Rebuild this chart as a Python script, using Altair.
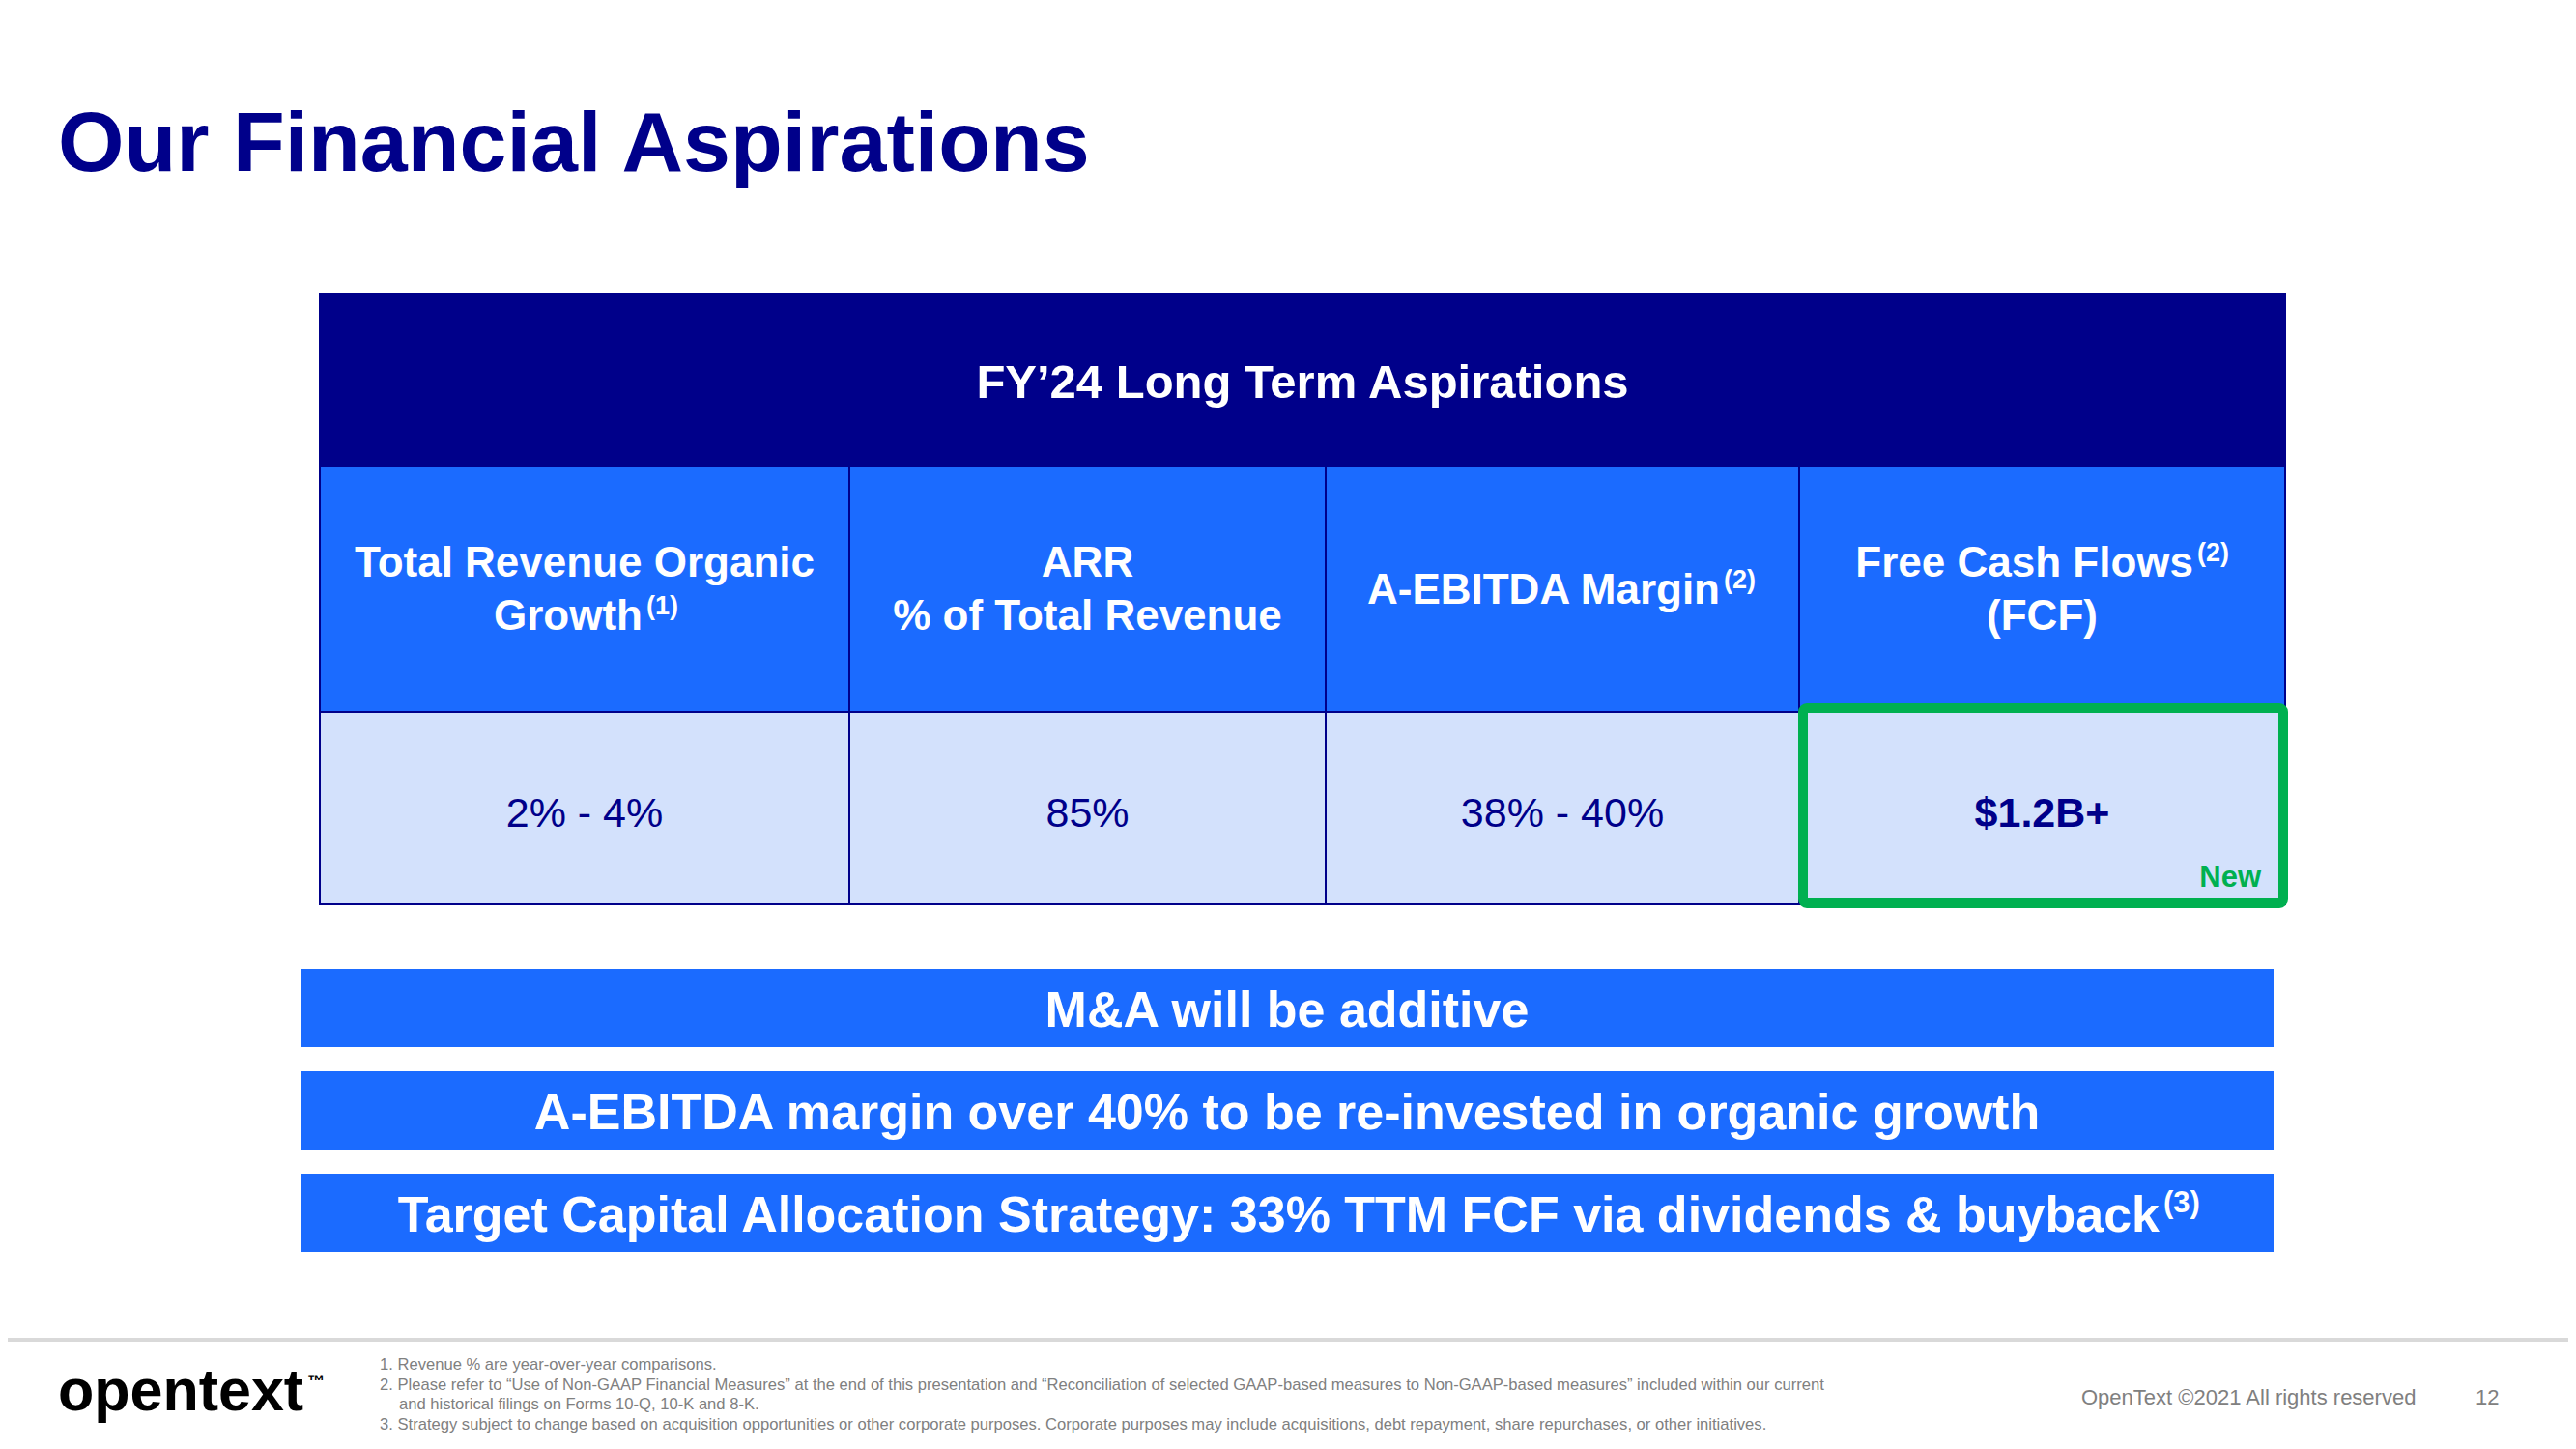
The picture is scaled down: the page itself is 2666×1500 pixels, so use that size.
import altair as alt
import pandas as pd

# ---------------- content ----------------
title = "Our Financial Aspirations"
table_title = "FY\u201924 Long Term Aspirations"
metric_line1 = ["Total Revenue Organic", "ARR", "A-EBITDA Margin", "Free Cash Flows"]
metric_line2 = ["Growth", "% of Total Revenue", "", "(FCF)"]
metric_notes = ["(1)", "", "(2)", "(2)"]
note_on_line = [2, 0, 1, 1]          # which line carries the footnote mark (0 = none)
targets = ["2% - 4%", "85%", "38% - 40%", "$1.2B+"]
target_bold = [False, False, False, True]
new_flags = ["", "", "", "New"]
statements = [
    "M&A will be additive",
    "A-EBITDA margin over 40% to be re-invested in organic growth",
    "Target Capital Allocation Strategy: 33% TTM FCF via dividends & buyback",
]
statement_notes = ["", "", "(3)"]
footnotes = [
    "1. Revenue % are year-over-year comparisons.",
    "2. Please refer to \u201cUse of Non-GAAP Financial Measures\u201d at the end of this presentation and \u201cReconciliation of selected GAAP-based measures to Non-GAAP-based measures\u201d included within our current",
    "and historical filings on Forms 10-Q, 10-K and 8-K.",
    "3. Strategy subject to change based on acquisition opportunities or other corporate purposes. Corporate purposes may include acquisitions, debt repayment, share repurchases, or other initiatives.",
]
logo = "opentext"
copyright_text = "OpenText \u00a92021 All rights reserved"
page_number = "12"

# ---------------- layout (slide coordinates) ----------------
W, H = 2650, 1484
XD, YD = [8, 2658], [8, 1492]
NAVY = "#00008a"
BLUE = "#1b6bff"
LIGHT = "#d3e1fc"
GREEN = "#00b050"
GRAYL = "#d9d9d9"
GRAYT = "#808080"
FONT = "Liberation Sans"

col_edges = [331, 879, 1372, 1862, 2365]
row_edges = [304, 482, 737, 936]
note_anchor = [665, None, 1780, 2270]
line_y = [584, 639]
single_y = 612
value_y = 843
bar_x = [311, 2353]
bar_y = [(1003, 1084), (1109, 1190), (1215, 1296)]
stmt_note_anchor = [None, None, 2235]

xs = alt.Scale(domain=XD, nice=False, zero=False)
ys = alt.Scale(domain=YD, nice=False, zero=False, reverse=True)

# ---------------- rectangles ----------------
rects = [dict(x=col_edges[0], x2=col_edges[-1], y=row_edges[0], y2=row_edges[1], fill=NAVY, stroke=NAVY, sw=2)]
for i in range(4):
    rects.append(dict(x=col_edges[i], x2=col_edges[i + 1], y=row_edges[1], y2=row_edges[2], fill=BLUE, stroke=NAVY, sw=2))
    rects.append(dict(x=col_edges[i], x2=col_edges[i + 1], y=row_edges[2], y2=row_edges[3], fill=LIGHT, stroke=NAVY, sw=2))
for (a, b) in bar_y:
    rects.append(dict(x=bar_x[0], x2=bar_x[1], y=a, y2=b, fill=BLUE, stroke=BLUE, sw=0))
rects.append(dict(x=8, x2=2658, y=1385, y2=1389, fill=GRAYL, stroke=GRAYL, sw=0))
rect_df = pd.DataFrame(rects)

rect_layer = alt.Chart(rect_df).mark_rect().encode(
    x=alt.X("x:Q", scale=xs, axis=None),
    x2="x2",
    y=alt.Y("y:Q", scale=ys, axis=None),
    y2="y2",
    color=alt.Color("fill:N", scale=None),
    stroke=alt.Stroke("stroke:N", scale=None),
    strokeWidth=alt.StrokeWidth("sw:Q", scale=None),
)

box_df = pd.DataFrame([dict(x=1866, x2=2363, y=733, y2=935)])
box_layer = alt.Chart(box_df).mark_rect(filled=False, stroke=GREEN, strokeWidth=10, cornerRadius=4).encode(
    x=alt.X("x:Q", scale=xs, axis=None), x2="x2",
    y=alt.Y("y:Q", scale=ys, axis=None), y2="y2",
)

# ---------------- texts ----------------
texts = []
def T(x, y, text, fs, c, align="center", weight="normal", baseline="middle"):
    if text:
        texts.append(dict(x=x, y=y, t=text, fs=fs, c=c, align=align, weight=weight, baseline=baseline))

T(60, 177, title, 88, NAVY, "left", "bold", "alphabetic")
T((col_edges[0] + col_edges[-1]) / 2, 397, table_title, 49, "white", "center", "bold")

for i in range(4):
    cx = (col_edges[i] + col_edges[i + 1]) / 2
    lines = [metric_line1[i], metric_line2[i]] if metric_line2[i] else [metric_line1[i]]
    ys_ = line_y if len(lines) == 2 else [single_y]
    for j, (txt, yy) in enumerate(zip(lines, ys_)):
        if note_on_line[i] == j + 1:
            T(note_anchor[i], yy, txt, 44, "white", "right", "bold")
            T(note_anchor[i] + 4, yy - 11, metric_notes[i], 27, "white", "left", "bold")
        else:
            T(cx, yy, txt, 44, "white", "center", "bold")
    T(cx, value_y, targets[i], 43, NAVY, "center", "bold" if target_bold[i] else "normal")
    T(col_edges[i + 1] - 25, 918, new_flags[i], 31, GREEN, "right", "bold", "alphabetic")

for k, s in enumerate(statements):
    cy = (bar_y[k][0] + bar_y[k][1]) / 2 + 3
    if statement_notes[k]:
        T(stmt_note_anchor[k], cy, s, 52, "white", "right", "bold")
        T(stmt_note_anchor[k] + 4, cy - 13, statement_notes[k], 31, "white", "left", "bold")
    else:
        T((bar_x[0] + bar_x[1]) / 2, cy, s, 52, "white", "center", "bold")

foot_x = [393, 393, 413, 393]
foot_y = [1413, 1434, 1454, 1475]
for k, s in enumerate(footnotes):
    T(foot_x[k], foot_y[k], s, 16.6, GRAYT, "left", "normal")

T(60, 1460, logo, 61, "black", "left", "bold", "alphabetic")
T(318, 1436, "\u2122", 18, "black", "left", "bold", "alphabetic")
T(2154, 1447, copyright_text, 22, GRAYT, "left", "normal")
T(2562, 1447, page_number, 22, GRAYT, "left", "normal")

text_df = pd.DataFrame(texts)

text_layers = []
for (align, weight, baseline), g in text_df.groupby(["align", "weight", "baseline"]):
    text_layers.append(
        alt.Chart(g).mark_text(align=align, baseline=baseline, fontWeight=weight, font=FONT).encode(
            x=alt.X("x:Q", scale=xs, axis=None),
            y=alt.Y("y:Q", scale=ys, axis=None),
            text="t:N",
            size=alt.Size("fs:Q", scale=None),
            color=alt.Color("c:N", scale=None),
        )
    )

chart = alt.layer(rect_layer, box_layer, *text_layers).properties(
    width=W, height=H, autosize=alt.AutoSizeParams(type="none"), padding=0, background="white"
).configure_view(stroke=None)

chart.save("out.html", embed_options={"renderer": "svg", "actions": False})
